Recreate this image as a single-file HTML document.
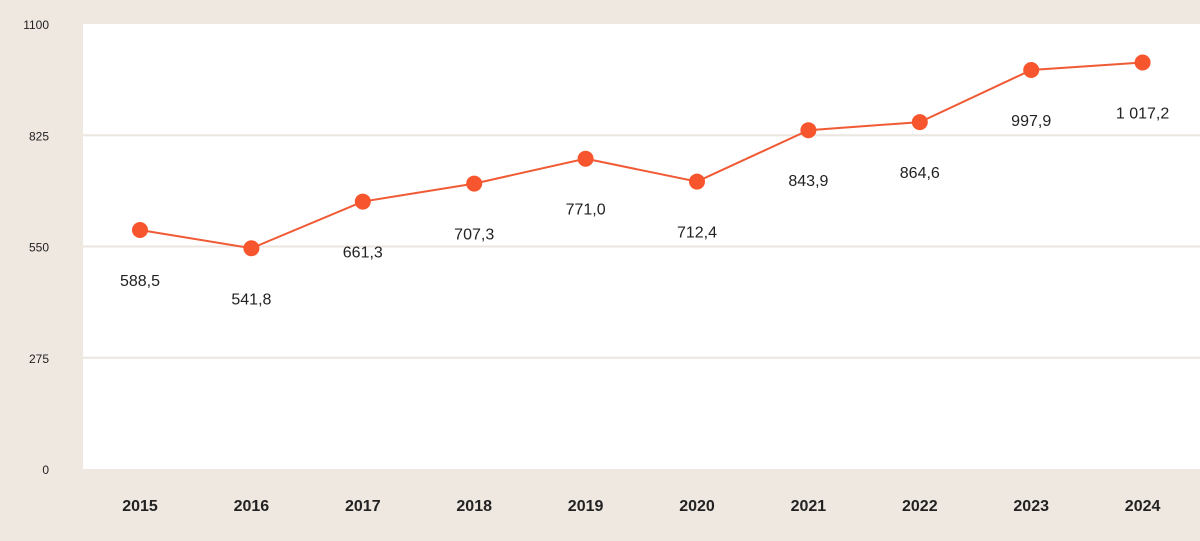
<!DOCTYPE html>
<html><head><meta charset="utf-8">
<style>
html,body{margin:0;padding:0;background:#efe8e1;}
svg{display:block;font-family:"Liberation Sans",sans-serif;}
</style></head>
<body>
<svg id="chart" width="1200" height="541" xmlns="http://www.w3.org/2000/svg">
<rect x="0" y="0" width="1200" height="541" fill="#efe8e1"/>
<rect x="83" y="24" width="1117" height="445" fill="#ffffff"/>
</svg>
<script>
const years = ["2015","2016","2017","2018","2019","2020","2021","2022","2023","2024"];
const values = [588.5,541.8,661.3,707.3,771.0,712.4,843.9,864.6,997.9,1017.2];
const valueLabels = ["588,5","541,8","661,3","707,3","771,0","712,4","843,9","864,6","997,9","1 017,2"];
const yTicks = [0,275,550,825,1100];

const svg = document.getElementById('chart');
const NS = 'http://www.w3.org/2000/svg';
const yMax = 1100, yTop = 24, yBot = 469;
function yScale(v){ return yBot - (v / yMax) * (yBot - yTop); }
function pScale(v){ return 460 - v * 0.3908; }
function xScale(i){ return 140 + i * 111.4; }
function mk(tag, attrs){ const e = document.createElementNS(NS, tag); for (const k in attrs) e.setAttribute(k, attrs[k]); svg.appendChild(e); return e; }

yTicks.forEach(t => {
  const y = yScale(t);
  if (t > 0 && t < yMax) {
    const g = mk('line', {x1:83, x2:1200, y1:y, y2:y, stroke:'#ece6e0', 'stroke-width':2});
    
    
  }
  const lb = mk('text', {x:49, y:y+5, 'text-anchor':'end', 'font-size':12, fill:'#222'});
  lb.textContent = t;
  
  
});

years.forEach((yr, i) => {
  const t = mk('text', {x:xScale(i), y:511, 'text-anchor':'middle', 'font-size':16, 'font-weight':'bold', fill:'#222'});
  t.textContent = yr;
  
  
});

const pts = values.map((v, i) => xScale(i) + ',' + pScale(v)).join(' ');
const line = mk('polyline', {points:pts, fill:'none', stroke:'#f05a35', 'stroke-width':2});



values.forEach((v, i) => {
  const c = mk('circle', {cx:xScale(i), cy:pScale(v), r:8, fill:'#f7552d'});
  
  
  const t = mk('text', {x:xScale(i), y:pScale(v)+56, 'text-anchor':'middle', 'font-size':16, fill:'#222'});
  t.textContent = valueLabels[i];
  
  
});
</script>
</body></html>
